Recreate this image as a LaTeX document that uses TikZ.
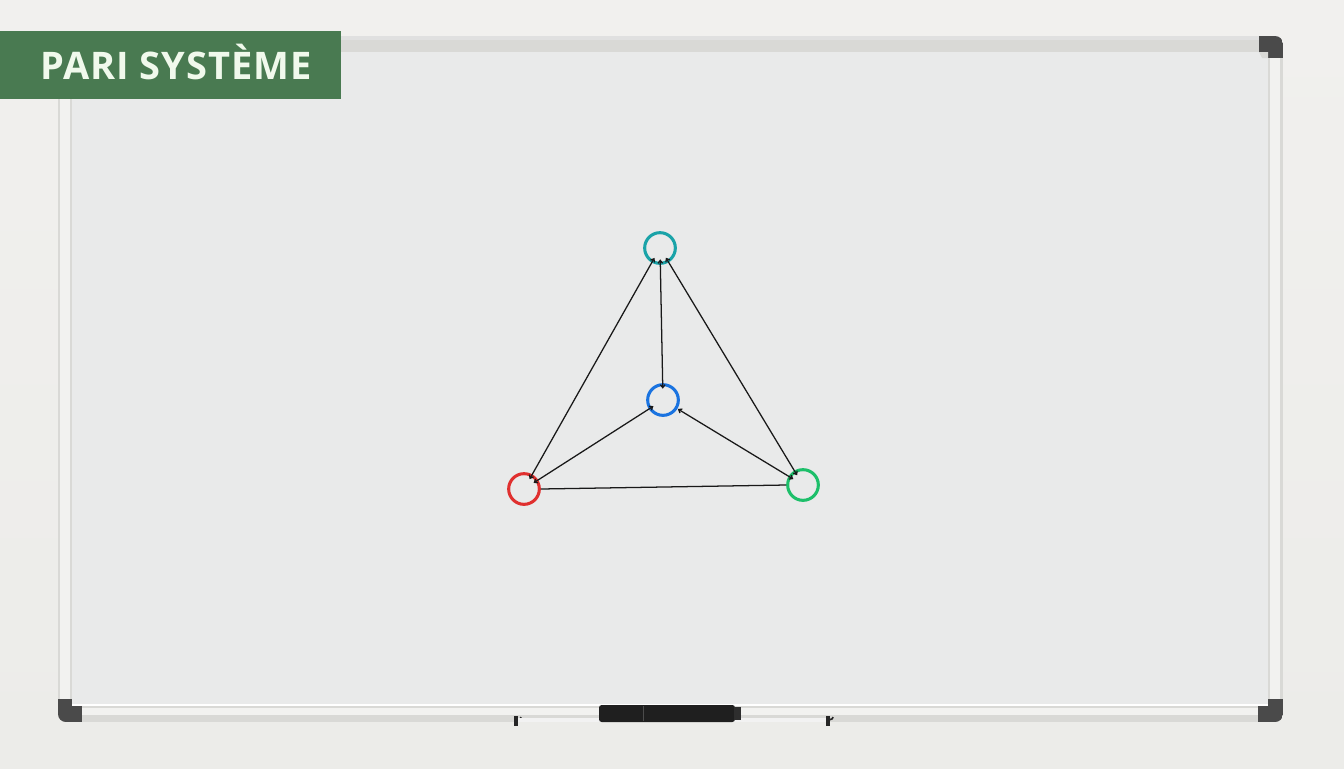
\documentclass[tikz,border=0pt]{standalone}
\usepackage{fontspec}
\setmainfont{Open Sans}
\usetikzlibrary{arrows.meta}
\definecolor{wall}{HTML}{ECECE9}
\definecolor{walltop}{HTML}{F1F0EE}
\definecolor{board}{HTML}{E9EAEA}
\definecolor{framec}{HTML}{D9D9D6}
\definecolor{framehl}{HTML}{F2F2F0}
\definecolor{capc}{HTML}{4A4A4A}
\definecolor{banner}{HTML}{497A51}
\definecolor{bannertext}{HTML}{F0F9EC}
\definecolor{cteal}{HTML}{1AA3A8}
\definecolor{cblue}{HTML}{1A73E0}
\definecolor{cred}{HTML}{E0302F}
\definecolor{cgreen}{HTML}{1DBF6A}
\begin{document}
\begin{tikzpicture}[x=0.75pt,y=-0.75pt,
  vertex/.style={circle,draw,line width=2.3pt,minimum size=23pt,inner sep=0pt},
  edge/.style={draw=black!90,line width=0.95pt,shorten <=8.5pt,shorten >=8.5pt,
    {Straight Barb[length=2.2pt,width=3.5pt]}-{Straight Barb[length=2.2pt,width=3.5pt]}},
  plain/.style={draw=black!90,line width=0.95pt}]
\useasboundingbox (0,0) rectangle (1344,768);
% wall
\shade[top color=walltop,bottom color=wall] (0,0) rectangle (1344,768);
% frame, clipped to rounded outline
\begin{scope}
\clip[rounded corners=6pt] (58,36) rectangle (1283,722);
\fill[framec] (58,36) rectangle (1283,722);
\fill[framehl] (60,52) rectangle (70,705);
\fill[framehl] (1270,52) rectangle (1280,705);
\fill[framehl] (72,708) rectangle (1268,715);
\fill[black!12] (58,36) rectangle (1283,40);
% corner caps
\fill[capc] (1259,36) rectangle (1283,58);
\fill[capc] (58,699) rectangle (82,722);
\fill[capc] (1258,699) rectangle (1283,722);
\end{scope}
% board surface
\fill[board] (72,52) rectangle (1268,705);
\fill[framec] (1259,52) -- (1268,52) -- (1268,58) -- (1262,58) -- cycle;
\draw[white,line width=0.8pt] (72,705) -- (1268,705);
% tray clips
\fill[black!85] (514,716) rectangle (518,726);
\fill[black!85] (826,716) rectangle (830,726);
\draw[black!85,line width=1.2pt] (516,717) arc[start angle=180,end angle=0,radius=2.5];
\draw[black!85,line width=1.2pt] (828,717) arc[start angle=180,end angle=0,radius=2.5];
\fill[white!90!gray] (518,718) rectangle (826,722);
% marker
\fill[black!88,rounded corners=2pt] (599,705) rectangle (735,722);
\fill[black!82] (734,707) rectangle (741,720);
\draw[black!70,line width=0.3pt] (643,706) -- (643,721);
% banner
\fill[banner] (0,31) rectangle (341,98.5);
\node[anchor=base west,inner sep=0pt,text=bannertext,font=\fontsize{28.5pt}{30pt}\selectfont\bfseries\addfontfeatures{LetterSpace=2.5}] (title) at (40,79.5) {PARI SYSTÈME};
% vertices
\node[vertex,draw=cteal] (top) at (660,248) {};
\node[vertex,draw=cblue] (mid) at (663,400) {};
\node[vertex,draw=cred] (red) at (524,489) {};
\node[vertex,draw=cgreen] (green) at (803,485) {};
% edges
\path[edge] (top.center) -- (red.center);
\path[edge] (top.center) -- (mid.center);
\path[edge] (top.center) -- (green.center);
\path[edge] (mid.center) -- (red.center);
\path[edge,shorten <=13pt] (mid.center) -- (green.center);
\path[plain] (red.east) -- (green.west);
\end{tikzpicture}
\end{document}
